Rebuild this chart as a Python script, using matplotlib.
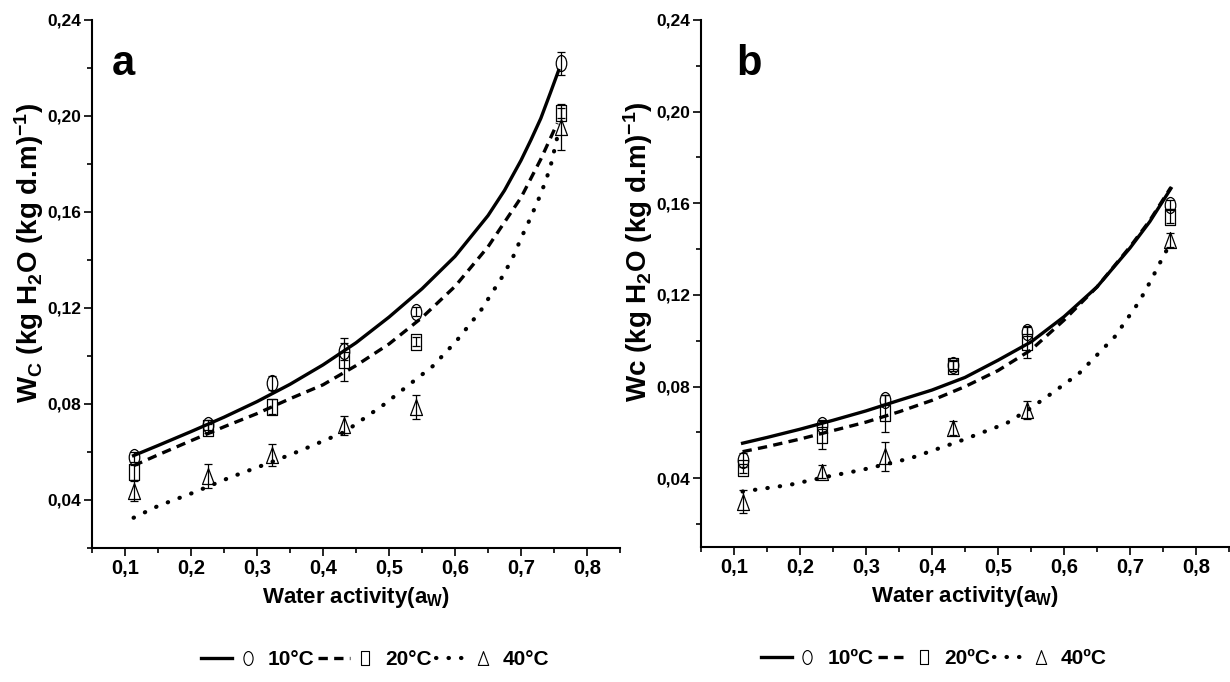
import matplotlib
matplotlib.use('Agg')
import matplotlib.pyplot as plt
from matplotlib.path import Path
from matplotlib.transforms import Affine2D
from matplotlib.lines import Line2D
from matplotlib.legend_handler import HandlerTuple
from matplotlib.ticker import MultipleLocator

plt.rcParams['font.family'] = ['Liberation Sans', 'DejaVu Sans']
plt.rcParams['mathtext.default'] = 'regular'

# measured points, panel a
aw_a = [0.113, 0.225, 0.322, 0.432, 0.541, 0.760]
wc_a_10 = [0.0578, 0.0712, 0.0887, 0.1020, 0.1185, 0.2219]
wc_a_20 = [0.0515, 0.0698, 0.0789, 0.0985, 0.1060, 0.2013]
wc_a_40 = [0.0438, 0.0501, 0.0589, 0.0712, 0.0789, 0.1955]
err_a_10 = [0.002, 0.002, 0.003, 0.0035, 0.002, 0.0047]
err_a_20 = [0.003, 0.002, 0.003, 0.0088, 0.002, 0.002]
err_a_40 = [0.0042, 0.005, 0.0046, 0.004, 0.005, 0.0097]

# fitted curves, panel a
fit_a_10_x = [0.113, 0.15, 0.2, 0.25, 0.3, 0.35, 0.4, 0.45, 0.5, 0.55, 0.6, 0.65, 0.675, 0.7, 0.715, 0.73, 0.745, 0.757]
fit_a_10_y = [0.0585, 0.0627, 0.0685, 0.0745, 0.0810, 0.0882, 0.0963, 0.1055, 0.1162, 0.1280, 0.1415, 0.1585, 0.169, 0.1815, 0.190, 0.199, 0.210, 0.219]
fit_a_20_x = [0.113, 0.15, 0.2, 0.25, 0.3, 0.35, 0.4, 0.45, 0.5, 0.55, 0.6, 0.65, 0.7, 0.73, 0.755]
fit_a_20_y = [0.0543, 0.0588, 0.0647, 0.0705, 0.0760, 0.0822, 0.0880, 0.0960, 0.1050, 0.1160, 0.1290, 0.1455, 0.1660, 0.182, 0.197]
fit_a_40_x = [0.113, 0.15, 0.204, 0.26, 0.321, 0.366, 0.433, 0.493, 0.527, 0.566, 0.602, 0.639, 0.657, 0.673, 0.688, 0.701, 0.714, 0.727, 0.738, 0.7465, 0.7533, 0.758]
fit_a_40_y = [0.0326, 0.0375, 0.0431, 0.0495, 0.0557, 0.0606, 0.0684, 0.0799, 0.0873, 0.0957, 0.1062, 0.1189, 0.1267, 0.1336, 0.1413, 0.1496, 0.1573, 0.1656, 0.1733, 0.1809, 0.1892, 0.195]

# measured points, panel b
aw_b = [0.113, 0.233, 0.329, 0.432, 0.544, 0.761]
wc_b_10 = [0.0480, 0.0633, 0.0742, 0.0895, 0.1040, 0.1593]
wc_b_20 = [0.0444, 0.0589, 0.0684, 0.0890, 0.0996, 0.1542]
wc_b_40 = [0.0298, 0.0429, 0.0495, 0.0618, 0.0698, 0.1440]
err_b_10 = [0.003, 0.002, 0.002, 0.002, 0.002, 0.002]
err_b_20 = [0.002, 0.006, 0.008, 0.002, 0.007, 0.003]
err_b_40 = [0.005, 0.003, 0.0062, 0.003, 0.004, 0.003]

# fitted curves, panel b
fit_b_10_x = [0.113, 0.15, 0.2, 0.25, 0.3, 0.35, 0.4, 0.45, 0.5, 0.55, 0.6, 0.65, 0.7, 0.73, 0.762]
fit_b_10_y = [0.0553, 0.0578, 0.0614, 0.0653, 0.0694, 0.0740, 0.0785, 0.0840, 0.0915, 0.0995, 0.1105, 0.1235, 0.1405, 0.152, 0.1665]
fit_b_20_x = [0.113, 0.15, 0.2, 0.25, 0.3, 0.35, 0.4, 0.45, 0.5, 0.55, 0.6, 0.65, 0.7, 0.73, 0.762]
fit_b_20_y = [0.0516, 0.0538, 0.0571, 0.0608, 0.0645, 0.0690, 0.0740, 0.0800, 0.0870, 0.0960, 0.1090, 0.1235, 0.1410, 0.1525, 0.167]
fit_b_40_x = [0.113, 0.184, 0.241, 0.293, 0.367, 0.44, 0.513, 0.549, 0.586, 0.623, 0.677, 0.714, 0.732, 0.745, 0.761]
fit_b_40_y = [0.0342, 0.0371, 0.0407, 0.0436, 0.0487, 0.056, 0.064, 0.0705, 0.078, 0.0858, 0.1018, 0.1171, 0.1265, 0.1338, 0.1425]

x_ticks = [0.1, 0.2, 0.3, 0.4, 0.5, 0.6, 0.7, 0.8]
x_labels = ['0,1', '0,2', '0,3', '0,4', '0,5', '0,6', '0,7', '0,8']
y_ticks = [0.04, 0.08, 0.12, 0.16, 0.20, 0.24]
y_labels = ['0,04', '0,08', '0,12', '0,16', '0,20', '0,24']

# open marker shapes (tall ellipse, narrow box, triangle)
ellipse = Path.unit_circle().transformed(Affine2D().scale(0.66, 1.0))
box = Path.unit_rectangle().transformed(Affine2D().translate(-0.5, -0.5).scale(0.58, 1.0))
tri = Path([(-0.75, -1), (0.75, -1), (0, 1), (-0.75, -1)], closed=True)

styles = [
    dict(linestyle='-', lw=2.4),
    dict(linestyle=(0, (2.8, 1.9)), lw=2.4),
    dict(linestyle=(0, (0.1, 2.9)), lw=3.0, dash_capstyle='round'),
]
marks = [ellipse, box, tri]


def draw_panel(ax, aw, series, fits, letter, letter_x, ylabel, legend_labels, legend_x, ybottom):
    for st, (fx, fy) in zip(styles, fits):
        ax.plot(fx, fy, color='black', **st)
    for mk, (wc, err) in zip(marks, series):
        ax.errorbar(aw, wc, yerr=err, fmt='none', ecolor='black', elinewidth=0.9, capsize=3, capthick=0.9)
        ax.plot(aw, wc, linestyle='none', marker=mk, markersize=11.5, markerfacecolor='none',
                markeredgecolor='black', markeredgewidth=0.9)

    ax.set_xlim(0.05, 0.85)
    ax.set_ylim(ybottom, 0.24)
    ax.set_xticks(x_ticks)
    ax.set_xticklabels(x_labels, fontsize=14.5, fontweight='bold')
    ax.set_yticks(y_ticks)
    ax.set_yticklabels(y_labels, fontsize=12.5, fontweight='bold')
    ax.xaxis.set_minor_locator(MultipleLocator(0.05))
    ax.yaxis.set_minor_locator(MultipleLocator(0.02))
    ax.tick_params(which='major', direction='out', length=6, width=1.2, pad=2)
    ax.tick_params(which='minor', direction='out', length=3.5, width=1.2)
    for s in ['top', 'right']:
        ax.spines[s].set_visible(False)
    for s in ['left', 'bottom']:
        ax.spines[s].set_linewidth(1.5)

    ax.set_xlabel('Water activity(a$_W$)', fontsize=16, fontweight='bold', labelpad=5)
    ax.set_ylabel(ylabel, fontsize=20, fontweight='bold')
    ax.yaxis.set_label_coords(-0.088, 0.56)
    ax.text(letter_x, 0.896, letter, transform=ax.transAxes,
            fontsize=30, fontweight='bold', va='baseline')

    handles = []
    for st, mk in zip(styles, marks):
        ln = Line2D([], [], color='black', **st)
        pt = Line2D([], [], linestyle='none', marker=mk, markersize=10, markerfacecolor='none',
                    markeredgecolor='black', markeredgewidth=0.8)
        handles.append((ln, pt))
    ax.legend(handles=handles, labels=legend_labels, ncol=3, loc='center',
              bbox_to_anchor=(legend_x, -0.212), frameon=False,
              handler_map={tuple: HandlerTuple(ndivide=None, pad=0.0)},
              handlelength=3.0, handletextpad=0.2, columnspacing=0.2,
              prop={'weight': 'bold', 'size': 15})


fig = plt.figure(figsize=(12.3, 6.82), dpi=100)
ax1 = fig.add_axes([92 / 1230, 134 / 682, 528 / 1230, 528 / 682])
ax2 = fig.add_axes([701 / 1230, 135 / 682, 528 / 1230, 527 / 682])

draw_panel(ax1, aw_a,
           [(wc_a_10, err_a_10), (wc_a_20, err_a_20), (wc_a_40, err_a_40)],
           [(fit_a_10_x, fit_a_10_y), (fit_a_20_x, fit_a_20_y), (fit_a_40_x, fit_a_40_y)],
           'a', 0.038, 'W$_C$ (kg H$_2$O (kg d.m)$^{-1}$)', ['10°C', '20°C', '40°C'], 0.536, 0.02)
draw_panel(ax2, aw_b,
           [(wc_b_10, err_b_10), (wc_b_20, err_b_20), (wc_b_40, err_b_40)],
           [(fit_b_10_x, fit_b_10_y), (fit_b_20_x, fit_b_20_y), (fit_b_40_x, fit_b_40_y)],
           'b', 0.066, 'Wc (kg H$_2$O (kg d.m)$^{-1}$)', ['10ºC', '20ºC', '40ºC'], 0.441, 0.01)

fig.savefig('out.png', dpi=100)
